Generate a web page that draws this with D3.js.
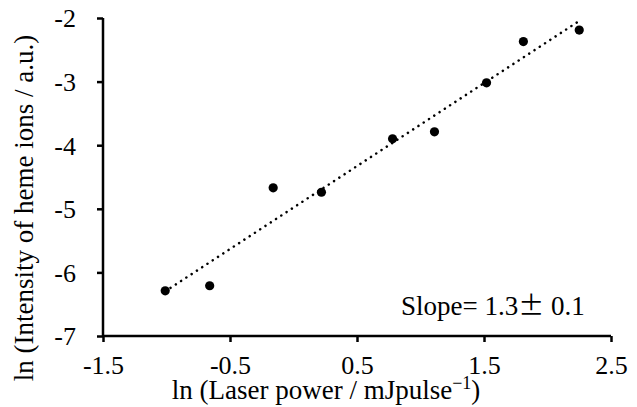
<!DOCTYPE html>
<html lang="en">
<head>
    <meta charset="UTF-8">
    <script src="https://d3js.org/d3.v7.min.js" charset="utf-8"></script>
    <title>Heme ions vs laser power</title>
    <style>
        body { margin: 0; background: #fff; }
        text { font-family: "Liberation Serif", "Times New Roman", serif; fill: #000; }
    </style>
</head>
<body>
<div id="vis"></div>
<script>
    // ln(laser power) and ln(ion intensity)
    var lnPower = [-1.01, -0.66, -0.16, 0.22, 0.78, 1.11, 1.52, 1.81, 2.25],
        lnIntensity = [-6.29, -6.21, -4.67, -4.74, -3.90, -3.79, -3.02, -2.37, -2.19],
        xTicks = [-1.5, -0.5, 0.5, 1.5, 2.5],
        yTicks = [-7, -6, -5, -4, -3, -2];

    var width = 637, height = 407,
        mLeft = 103, mRight = 611, mTop = 18, mBottom = 336,
        fs = "27px",
        svg = d3.select("#vis").append("svg").attr("width", width).attr("height", height);

    var x = d3.scaleLinear().domain([-1.5, 2.5]).range([mLeft, mRight]),
        y = d3.scaleLinear().domain([-7, -2]).range([mBottom, mTop]);

    var points = lnPower.map(function(d, i){ return [d, lnIntensity[i]]; });

    // least squares fit for the dotted trend line
    var mx = d3.mean(lnPower), my = d3.mean(lnIntensity),
        sxy = d3.sum(points, function(p){ return (p[0] - mx) * (p[1] - my); }),
        sxx = d3.sum(lnPower, function(d){ return (d - mx) * (d - mx); }),
        slope = sxy / sxx, icpt = my - slope * mx,
        x0 = d3.min(lnPower), x1 = d3.max(lnPower);

    // hyphen instead of unicode minus, like the original
    var hyph = function(f){ return function(d){ return f(d).replace("\u2212", "-"); }; };

    var xAxis = d3.axisBottom(x).tickValues(xTicks).tickSize(6).tickFormat(hyph(d3.format(".1f"))),
        yAxis = d3.axisLeft(y).tickValues(yTicks).tickSize(6).tickFormat(hyph(d3.format("d")));

    var gx = svg.append("g").attr("transform", "translate(0," + mBottom + ")").call(xAxis);
    var gy = svg.append("g").attr("transform", "translate(" + mLeft + ",0)").call(yAxis);

    [gx, gy].forEach(function(g){
        g.select(".domain").attr("stroke", "#000").attr("stroke-width", 2.5);
        g.selectAll(".tick line").attr("stroke", "#000").attr("stroke-width", 2.5);
        g.selectAll(".tick text")
            .style("font-family", "Liberation Serif, serif")
            .style("font-size", "26px")
            .attr("fill", "#000");
    });
    gx.select(".domain").attr("d", "M" + mLeft + ",0H" + mRight);
    gy.select(".domain").attr("d", "M0," + mBottom + "V" + mTop);
    gx.selectAll(".tick text").attr("y", 38).attr("dy", 0);
    gy.selectAll(".tick text").attr("x", -27).attr("dy", "0.34em");

    svg.append("line")
        .attr("x1", x(x0)).attr("y1", y(icpt + slope * x0))
        .attr("x2", x(x1)).attr("y2", y(icpt + slope * x1))
        .attr("stroke", "#000")
        .attr("stroke-width", 2.5)
        .attr("stroke-linecap", "round")
        .attr("stroke-dasharray", "0.1,6.2");

    svg.append("g").selectAll("circle").data(points).enter().append("circle")
        .attr("cx", function(d){ return x(d[0]); })
        .attr("cy", function(d){ return y(d[1]); })
        .attr("r", 4.6)
        .attr("fill", "#000");

    var sl = svg.append("text")
        .attr("x", 401).attr("y", 315)
        .style("font-size", fs);
    sl.append("tspan").text("Slope= 1.3");
    sl.append("tspan").style("font-family", "Noto Sans CJK JP").style("font-size", "26px").text("\u00b1");
    sl.append("tspan").text("  0.1");

    var xl = svg.append("text")
        .attr("x", 326).attr("y", 399)
        .attr("text-anchor", "middle")
        .style("font-size", fs);
    xl.append("tspan").text("ln (Laser power / mJpulse");
    xl.append("tspan").attr("dy", -10).style("font-size", "18px").text("\u22121");
    xl.append("tspan").attr("dy", 10).text(")");

    svg.append("text")
        .attr("transform", "translate(33,208) rotate(-90)")
        .attr("text-anchor", "middle")
        .style("font-size", fs)
        .text("ln (Intensity of heme ions / a.u.)");
</script>
</body>
</html>
